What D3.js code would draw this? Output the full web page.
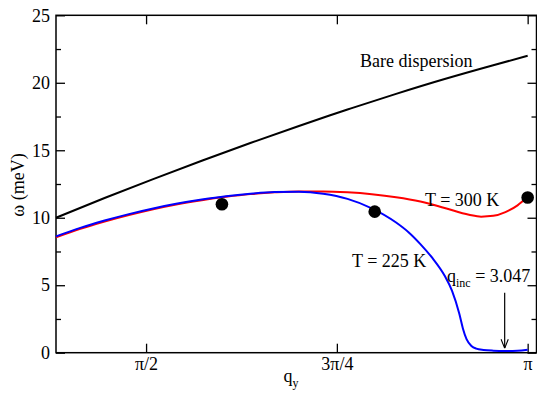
<!DOCTYPE html>
<html>
<head>
<meta charset="utf-8">
<script src="https://cdn.jsdelivr.net/npm/d3@7"></script>
<style>
  body { margin: 0; background: #fff; }
  svg text { font-family: "Liberation Serif", "Times New Roman", serif; }
</style>
</head>
<body>
<script>
// bare dispersion
var qBare = [1.2, 1.4, 1.6, 1.8, 2.0, 2.2, 2.4, 2.6, 2.8, 3.0, 3.1416];
var wBare = [10.0, 11.46, 12.86, 14.22, 15.54, 16.8, 18.02, 19.18, 20.28, 21.3, 22.0];

// T = 300 K
var q300 = [1.2, 1.3, 1.4, 1.5, 1.6, 1.7, 1.8, 1.9, 2.0, 2.1, 2.2, 2.3, 2.4, 2.5, 2.6, 2.7, 2.8, 2.9, 2.95, 3.0, 3.05, 3.1, 3.1416];
var w300 = [8.55, 9.18, 9.72, 10.2, 10.63, 11.0, 11.3, 11.55, 11.75, 11.88, 11.95, 11.95, 11.88, 11.74, 11.52, 11.2, 10.72, 10.22, 10.08, 10.14, 10.42, 10.92, 11.55];

// T = 225 K
var q225 = [1.2, 1.3, 1.4, 1.5, 1.6, 1.7, 1.8, 1.9, 2.0, 2.1, 2.2, 2.3, 2.4, 2.5, 2.6, 2.65, 2.7, 2.75, 2.8, 2.83, 2.86, 2.875, 2.89, 2.91, 2.93, 2.96, 3.0, 3.05, 3.1, 3.1416];
var w225 = [8.62, 9.25, 9.79, 10.27, 10.69, 11.05, 11.35, 11.6, 11.78, 11.9, 11.93, 11.78, 11.4, 10.7, 9.65, 8.95, 8.05, 7.0, 5.7, 4.6, 2.9, 1.8, 1.0, 0.5, 0.3, 0.2, 0.15, 0.13, 0.15, 0.22];

// experimental points
var expQ = [1.883, 2.512, 3.1416];
var expW = [11.0, 10.45, 11.5];

var xTickValues = [Math.PI / 2, 3 * Math.PI / 4, Math.PI];
var xTickLabels = ["π/2", "3π/4", "π"];
var yTicks = [0, 5, 10, 15, 20, 25];
var yMinor = [2.5, 7.5, 12.5, 17.5, 22.5];

var qInc = 3.047;

var width = 537, height = 394;
var x = d3.scaleLinear().domain([1.2, 3.178]).range([56, 536.5]);
var y = d3.scaleLinear().domain([0, 25]).range([352.7, 15.3]);

var svg = d3.select("body").append("svg")
    .attr("width", width).attr("height", height);

var defs = svg.append("defs");
defs.append("marker")
    .attr("id", "arrow")
    .attr("viewBox", "0 0 10 10")
    .attr("refX", 10).attr("refY", 5)
    .attr("markerWidth", 9).attr("markerHeight", 9)
    .attr("markerUnits", "userSpaceOnUse")
    .attr("orient", "auto")
  .append("path")
    .attr("d", "M0,1 L10,5 L0,9")
    .attr("fill", "none")
    .attr("stroke", "#000")
    .attr("stroke-width", 1.2);

function zip(qs, ws) { return qs.map(function(q, i) { return [q, ws[i]]; }); }

var line = d3.line()
    .x(function(d) { return x(d[0]); })
    .y(function(d) { return y(d[1]); })
    .curve(d3.curveMonotoneX);

var smooth = d3.line()
    .x(function(d) { return x(d[0]); })
    .y(function(d) { return y(d[1]); })
    .curve(d3.curveNatural);

// axes
var fs = "18px";
var gB = svg.append("g").attr("transform", "translate(0," + y(0) + ")")
    .call(d3.axisBottom(x).tickValues(xTickValues).tickSize(-9).tickPadding(4.5)
      .tickFormat(function(d, i) { return xTickLabels[i]; }));
var gT = svg.append("g").attr("transform", "translate(0," + y(25) + ")")
    .call(d3.axisTop(x).tickValues(xTickValues).tickSize(-9).tickFormat(""));
var gL = svg.append("g").attr("transform", "translate(" + x(1.2) + ",0)")
    .call(d3.axisLeft(y).tickValues(yTicks).tickSize(-9).tickPadding(6));
var gLm = svg.append("g").attr("transform", "translate(" + x(1.2) + ",0)")
    .call(d3.axisLeft(y).tickValues(yMinor).tickSize(-5).tickFormat(""));
var gR = svg.append("g").attr("transform", "translate(" + x(3.178) + ",0)")
    .call(d3.axisRight(y).tickValues(yTicks).tickSize(-9).tickFormat(""));
var gRm = svg.append("g").attr("transform", "translate(" + x(3.178) + ",0)")
    .call(d3.axisRight(y).tickValues(yMinor).tickSize(-5).tickFormat(""));

[gB, gT, gL, gLm, gR, gRm].forEach(function(g) {
  g.attr("font-family", null);
  g.select(".domain").remove();
  g.selectAll("line").attr("stroke", "#000").attr("stroke-width", 1.3);
  g.selectAll("text").attr("font-size", fs).attr("fill", "#000");
});

svg.append("rect")
    .attr("x", x(1.2)).attr("y", y(25))
    .attr("width", x(3.178) - x(1.2)).attr("height", y(0) - y(25))
    .attr("fill", "none").attr("stroke", "#000").attr("stroke-width", 1.5);

// curves
svg.append("path").datum(zip(qBare, wBare)).attr("d", smooth)
    .attr("fill", "none").attr("stroke", "#000").attr("stroke-width", 2);
svg.append("path").datum(zip(q300, w300)).attr("d", line)
    .attr("fill", "none").attr("stroke", "#ff0000").attr("stroke-width", 2);
svg.append("path").datum(zip(q225, w225)).attr("d", line)
    .attr("fill", "none").attr("stroke", "#0000ff").attr("stroke-width", 2);

svg.selectAll(".dot").data(zip(expQ, expW)).enter().append("circle")
    .attr("class", "dot")
    .attr("cx", function(d) { return x(d[0]); })
    .attr("cy", function(d) { return y(d[1]); })
    .attr("r", 6.3).attr("fill", "#000");

// arrow to q_inc
svg.append("line")
    .attr("x1", x(qInc)).attr("x2", x(qInc))
    .attr("y1", y(4.45)).attr("y2", y(0.33))
    .attr("stroke", "#000").attr("stroke-width", 1.2)
    .attr("marker-end", "url(#arrow)");

// labels
svg.append("text").attr("x", 360).attr("y", 67).attr("font-size", fs).text("Bare dispersion");
svg.append("text").attr("x", 425).attr("y", 206).attr("font-size", fs).text("T = 300 K");
svg.append("text").attr("x", 352).attr("y", 267).attr("font-size", fs).text("T = 225 K");

var tq = svg.append("text").attr("x", 447).attr("y", 281.5).attr("font-size", fs);
tq.append("tspan").text("q");
tq.append("tspan").attr("font-size", "12px").attr("dy", 5).text("inc");
tq.append("tspan").attr("dy", -5).text(" = 3.047");

var tx = svg.append("text").attr("x", 291).attr("y", 382).attr("font-size", fs)
    .attr("text-anchor", "middle");
tx.append("tspan").text("q");
tx.append("tspan").attr("font-size", "12px").attr("dy", 5).text("y");

svg.append("text")
    .attr("transform", "translate(24,185) rotate(-90)")
    .attr("text-anchor", "middle").attr("font-size", fs)
    .text("ω (meV)");
</script>
</body>
</html>
